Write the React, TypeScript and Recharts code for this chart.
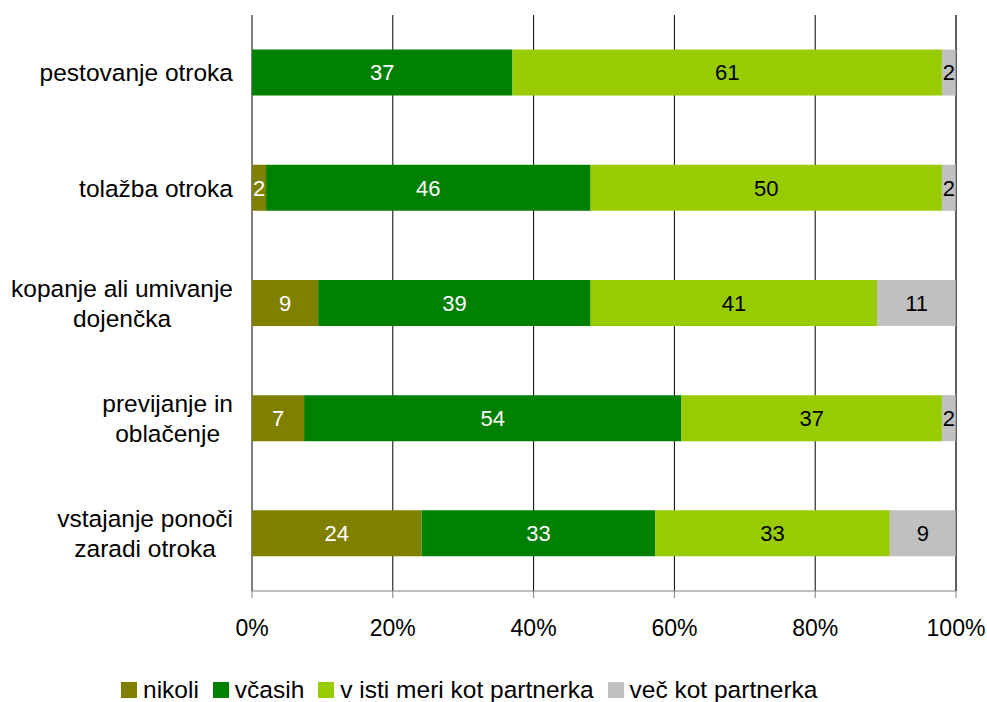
import React from "react";
import {
  BarChart,
  Bar,
  XAxis,
  YAxis,
  CartesianGrid,
  Legend,
  LabelList,
  ReferenceLine,
} from "recharts";

const categories = [
  "pestovanje otroka",
  "tolažba otroka",
  "kopanje ali umivanje dojenčka",
  "previjanje in oblačenje",
  "vstajanje ponoči zaradi otroka",
];
const categoryLines = [
  ["pestovanje otroka"],
  ["tolažba otroka"],
  ["kopanje ali umivanje", "dojenčka"],
  ["previjanje in", "oblačenje"],
  ["vstajanje ponoči", "zaradi otroka"],
];

const nikoli = [0, 2, 9.4, 7.4, 24.1];
const vcasih = [37, 46.1, 38.7, 53.6, 33.2];
const enako = [61, 49.9, 40.7, 37, 33.3];
const vec = [2, 2, 11.2, 2, 9.4];

const seriesNames = ["nikoli", "včasih", "v isti meri kot partnerka", "več kot partnerka"];
const seriesColors = ["#808000", "#008000", "#99CC00", "#C0C0C0"];
const labelColors = ["#ffffff", "#ffffff", "#000000", "#000000"];
const xTicks = [0, 20, 40, 60, 80, 100];
const bandTicks = [0, 1, 2, 3, 4, 5];

const FONT = '"Liberation Sans", Arial, sans-serif';
const Y_FONT = 24.5;

const data = categories.map((name, i) => ({
  name,
  s0: nikoli[i],
  s1: vcasih[i],
  s2: enako[i],
  s3: vec[i],
}));

let ctx: CanvasRenderingContext2D | null = null;
function textWidth(t: string) {
  if (!ctx) ctx = document.createElement("canvas").getContext("2d");
  if (!ctx) return t.length * Y_FONT * 0.5;
  ctx.font = `${Y_FONT}px ${FONT}`;
  return ctx.measureText(t).width;
}

function CategoryTick(props: any) {
  const { x, y, payload } = props;
  const idx = categories.indexOf(payload.value);
  const lines = categoryLines[idx] || [payload.value];
  const widths = lines.map(textWidth);
  const maxW = Math.max(...widths);
  const cx = x - maxW / 2;
  const step = 30;
  return (
    <g>
      {lines.map((line: string, i: number) => (
        <text
          key={i}
          x={cx}
          y={y + (i - (lines.length - 1) / 2) * step}
          dy="0.36em"
          textAnchor="middle"
          fontSize={Y_FONT}
          fontFamily={FONT}
          fill="#000"
        >
          {line}
        </text>
      ))}
    </g>
  );
}

function EmptyTick() {
  return <g />;
}

function LegendContent() {
  return (
    <div
      style={{
        display: "flex",
        alignItems: "center",
        fontFamily: FONT,
        fontSize: 24.5,
        whiteSpace: "nowrap",
        height: 26,
      }}
    >
      {seriesNames.map((name, i) => (
        <div key={name} style={{ display: "flex", alignItems: "center", marginRight: 14 }}>
          <span
            style={{
              width: 16,
              height: 16,
              background: seriesColors[i],
              marginRight: 6,
              display: "inline-block",
            }}
          />
          <span style={{ lineHeight: "26px", color: "#000" }}>{name}</span>
        </div>
      ))}
    </div>
  );
}

const fmt = (v: any) => (typeof v === "number" && v > 0 ? String(Math.round(v)) : "");

export default function App() {
  return (
    <div style={{ position: "absolute", left: 0, top: 0, background: "#fff" }}>
      <BarChart
        width={987}
        height={702}
        data={data}
        layout="vertical"
        barCategoryGap="30%"
        margin={{ top: 15, right: 31, left: 0, bottom: 81 }}
      >
        <CartesianGrid horizontal={false} stroke="#000" />
        <XAxis
          type="number"
          domain={[0, 100]}
          ticks={xTicks}
          interval={0}
          tickFormatter={(v: number) => `${v}%`}
          axisLine={{ stroke: "#808080" }}
          tickLine={{ stroke: "#808080" }}
          tickSize={7}
          tickMargin={22}
          height={30}
          tick={{ fontSize: 23, fontFamily: FONT, fill: "#000" }}
        />
        <YAxis
          yAxisId="frame"
          type="number"
          domain={[0, 5]}
          ticks={bandTicks}
          interval={0}
          width={0}
          tick={<EmptyTick />}
          tickSize={6}
          axisLine={{ stroke: "#808080" }}
          tickLine={{ stroke: "#808080" }}
        />
        <YAxis
          type="category"
          dataKey="name"
          width={252}
          axisLine={false}
          tickLine={false}
          tickSize={6}
          tickMargin={13}
          interval={0}
          tick={<CategoryTick />}
        />
        <ReferenceLine x={100} stroke="#808080" />
        {["s0", "s1", "s2", "s3"].map((key, i) => (
          <Bar
            key={key}
            dataKey={key}
            name={seriesNames[i]}
            stackId="a"
            fill={seriesColors[i]}
            isAnimationActive={false}
          >
            <LabelList
              dataKey={key}
              position="center"
              formatter={fmt}
              fill={labelColors[i]}
              fontSize={22}
              fontFamily={FONT}
            />
          </Bar>
        ))}
        <Legend
          verticalAlign="middle"
          align="center"
          layout="horizontal"
          content={<LegendContent />}
          wrapperStyle={{ left: 121, top: 677, width: 760 }}
        />
      </BarChart>
    </div>
  );
}
